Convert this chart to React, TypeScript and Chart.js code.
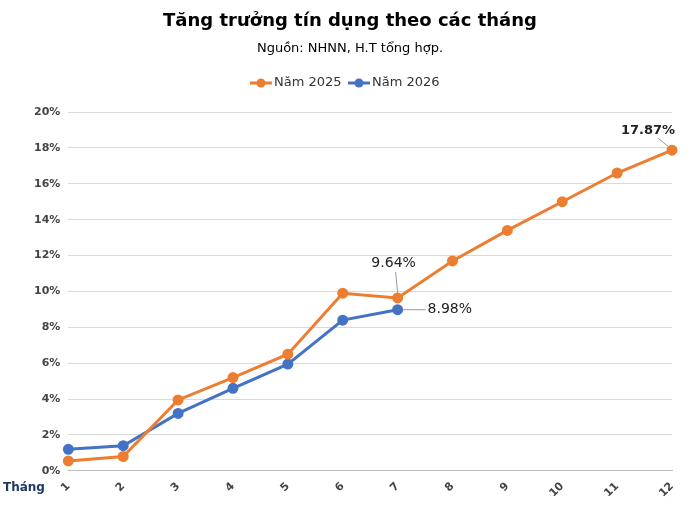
import React, { useEffect, useRef } from "react";
import { Chart, registerables } from "chart.js";
Chart.register(...registerables);

const months = ["1","2","3","4","5","6","7","8","9","10","11","12"];
const y2025 = [0.55, 0.8, 3.95, 5.2, 6.5, 9.9, 9.64, 11.7, 13.4, 15.0, 16.6, 17.87];
const y2026 = [1.2, 1.4, 3.2, 4.6, 5.95, 8.4, 8.98];
const ORANGE = "#ED7D31";
const BLUE = "#4472C4";

const overlay = {
  id: "overlay",
  afterDraw(chart: any) {
    const ctx = chart.ctx;
    ctx.save();
    ctx.fillStyle = "#000";
    ctx.textAlign = "center";
    ctx.textBaseline = "middle";
    ctx.font = "bold 18px 'DejaVu Sans'";
    ctx.fillText("Tăng trưởng tín dụng theo các tháng", 350, 21);
    ctx.font = "13px 'DejaVu Sans'";
    ctx.fillText("Nguồn: NHNN, H.T tổng hợp.", 350, 49);
    const items = [["Năm 2025", ORANGE, 250], ["Năm 2026", BLUE, 348]] as any[];
    ctx.font = "13px 'DejaVu Sans'";
    ctx.textAlign = "left";
    for (const [t, c, x] of items) {
      ctx.strokeStyle = c; ctx.lineWidth = 3;
      ctx.beginPath(); ctx.moveTo(x, 83); ctx.lineTo(x + 22, 83); ctx.stroke();
      ctx.fillStyle = c; ctx.beginPath(); ctx.arc(x + 11, 83, 4.5, 0, Math.PI * 2); ctx.fill();
      ctx.fillStyle = "#333"; ctx.fillText(t, x + 24, 83);
    }
    const yb = chart.scales.y.getPixelForValue(0);
    ctx.font = "bold 12px 'DejaVu Sans'";
    ctx.fillStyle = "#1F3864";
    ctx.fillText("Tháng", 3, yb + 17);
    const m0 = chart.getDatasetMeta(0).data;
    const m1 = chart.getDatasetMeta(1).data;
    ctx.fillStyle = "#222";
    ctx.strokeStyle = "#999"; ctx.lineWidth = 1;
    ctx.textAlign = "center";
    ctx.font = "bold 13px 'DejaVu Sans'";
    const p12 = m0[11];
    ctx.fillText("17.87%", p12.x - 24, p12.y - 20);
    ctx.beginPath(); ctx.moveTo(p12.x - 14, p12.y - 12); ctx.lineTo(p12.x - 4, p12.y - 4); ctx.stroke();
    ctx.font = "14px 'DejaVu Sans'";
    const p7 = m0[6];
    ctx.fillText("9.64%", p7.x - 4, p7.y - 35);
    ctx.beginPath(); ctx.moveTo(p7.x - 2, p7.y - 26); ctx.lineTo(p7.x, p7.y - 5); ctx.stroke();
    const q7 = m1[6];
    ctx.textAlign = "left";
    ctx.fillText("8.98%", q7.x + 30, q7.y);
    ctx.beginPath(); ctx.moveTo(q7.x + 5, q7.y); ctx.lineTo(q7.x + 28, q7.y); ctx.stroke();
    ctx.restore();
  },
};

export default function App() {
  const ref = useRef<HTMLCanvasElement>(null);
  useEffect(() => {
    document.body.style.margin = "0";
    const chart = new Chart(ref.current!, {
      type: "line",
      data: {
        labels: months,
        datasets: [
          { label: "Năm 2025", data: y2025, borderColor: ORANGE, backgroundColor: ORANGE, borderWidth: 3, pointRadius: 4, pointBackgroundColor: ORANGE, tension: 0 },
          { label: "Năm 2026", data: y2026, borderColor: BLUE, backgroundColor: BLUE, borderWidth: 3, pointRadius: 4, pointBackgroundColor: BLUE, tension: 0 },
        ],
      },
      options: {
        responsive: false,
        animation: false,
        layout: { padding: { top: 112, left: 26, right: 28, bottom: 22 } },
        plugins: { legend: { display: false }, tooltip: { enabled: false } },
        scales: {
          x: {
            offset: false,
            grid: { display: false, tickLength: 6, color: "#bbb" } as any,
            border: { color: "#bbb" },
            ticks: { minRotation: 45, maxRotation: 45, color: "#444", font: { family: "'DejaVu Sans'", size: 11, weight: "bold" } },
          },
          y: {
            min: 0, max: 20,
            grid: { color: "#d9d9d9", drawTicks: false },
            border: { display: false },
            ticks: { stepSize: 2, padding: 8, color: "#444", font: { family: "'DejaVu Sans'", size: 11, weight: "bold" }, callback: (v: any) => v + "%" },
          },
        },
      },
      plugins: [overlay],
    });
    return () => chart.destroy();
  }, []);
  return <canvas ref={ref} width={700} height={525} />;
}
